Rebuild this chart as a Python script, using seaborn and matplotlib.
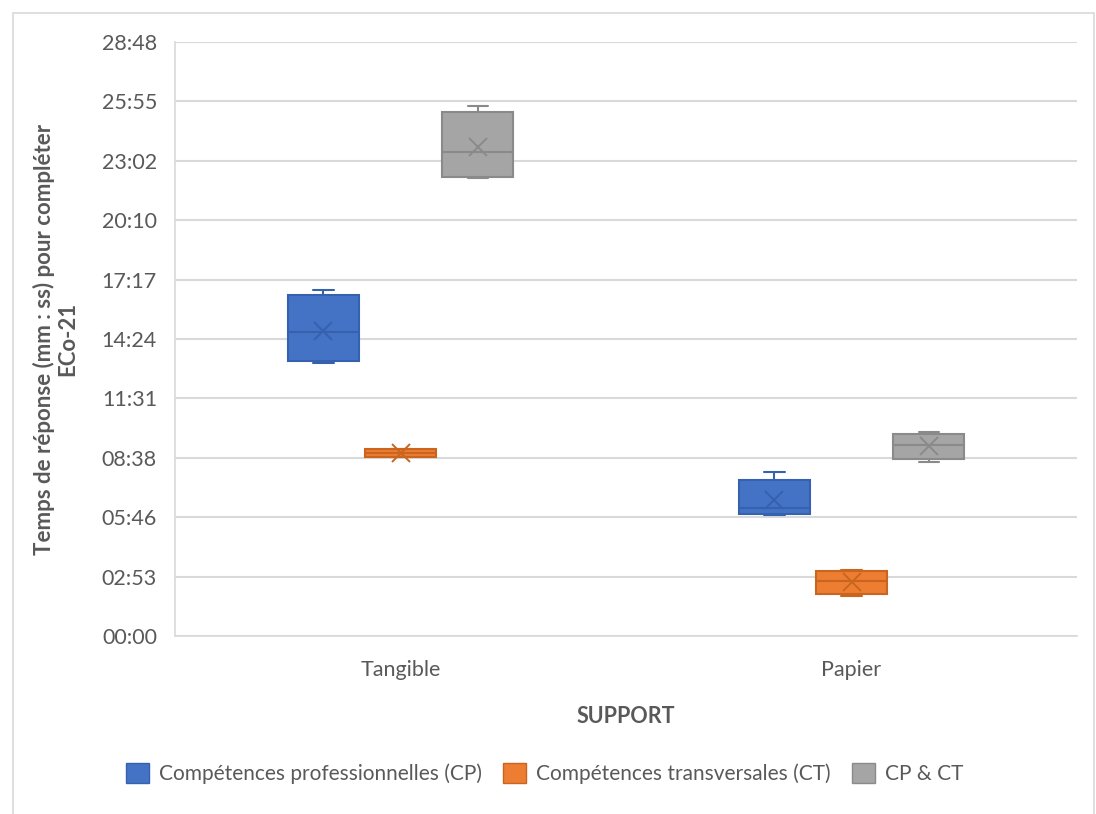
import numpy as np
import pandas as pd
import matplotlib.pyplot as plt
from matplotlib.patches import Patch, Rectangle
import seaborn as sns

## Data (seconds)
supports = ['Tangible', 'Papier']
groupes = ['Compétences professionnelles (CP)', 'Compétences transversales (CT)', 'CP & CT']

# min, Q1, median, Q3, max
tangible_cp = [793, 801, 884, 992, 1006]
tangible_ct = [520, 522, 532, 543, 545]
tangible_cpct = [1333, 1334, 1407, 1525, 1542]
papier_cp = [352, 355, 372, 454, 476]
papier_ct = [116, 121, 161, 189, 192]
papier_cpct = [505, 515, 556, 587, 594]

# means (x markers)
moy_tangible = [888, 532, 1422]
moy_papier = [396, 158, 554]

yticks_sec = [0, 172.8, 345.6, 518.4, 691.2, 864, 1036.8, 1209.6, 1382.4, 1555.2, 1728]
ytick_labels = ['00:00', '02:53', '05:46', '08:38', '11:31', '14:24',
                '17:17', '20:10', '23:02', '25:55', '28:48']

fill_colors = ['#4472C4', '#ED7D31', '#A5A5A5']
edge_colors = ['#3561AE', '#C9651F', '#8A8A8A']
text_col = '#595959'

## Long-form tables
rows = []
for sup, vals in zip(supports, [[tangible_cp, tangible_ct, tangible_cpct],
                                [papier_cp, papier_ct, papier_cpct]]):
    for g, v in zip(groupes, vals):
        for t in v:
            rows.append({'Support': sup, 'Groupe': g, 'Temps': t})
df = pd.DataFrame(rows)

mrows = []
for sup, means in zip(supports, [moy_tangible, moy_papier]):
    for g, m in zip(groupes, means):
        mrows.append({'Support': sup, 'Groupe': g, 'Temps': m})
df_means = pd.DataFrame(mrows)

sns.set_style('white')
plt.rcParams['font.family'] = ['Lato', 'DejaVu Sans']

fig = plt.figure(figsize=(10.96, 8.14), dpi=100)
ax = fig.add_axes([0.1597, 0.2187, 0.9827 - 0.1597, 0.9484 - 0.2187])

box_width = 0.513
sns.boxplot(data=df, x='Support', y='Temps', hue='Groupe', order=supports,
            hue_order=groupes, palette=fill_colors, saturation=1, width=box_width,
            gap=0.08, whis=3, linewidth=1.5, capwidths=0.045, legend=False, ax=ax)

for cont, ec in zip(ax.containers, edge_colors):
    for b in cont.boxes:
        b.set_edgecolor(ec)
    for ln in list(cont.whiskers) + list(cont.caps) + list(cont.medians):
        ln.set_color(ec)
        ln.set_linewidth(1.5)

sns.pointplot(data=df_means, x='Support', y='Temps', hue='Groupe', order=supports,
              hue_order=groupes, palette=edge_colors, dodge=2 * box_width / 3,
              markers='x', linestyles='none', errorbar=None, legend=False,
              markersize=13, markeredgewidth=1.4, zorder=5, ax=ax)

ax.set_xlim(-0.5, 1.5)
ax.set_ylim(0, 1728)
ax.set_yticks(yticks_sec)
ax.set_yticklabels(ytick_labels)
ax.yaxis.grid(True, color='#D9D9D9', linewidth=1.5)
ax.set_axisbelow(True)
ax.tick_params(axis='both', length=0, labelsize=15.5, labelcolor=text_col)
ax.tick_params(axis='y', pad=13)
ax.tick_params(axis='x', pad=17)

for s in ['top', 'right']:
    ax.spines[s].set_visible(False)
for s in ['left', 'bottom']:
    ax.spines[s].set_color('#D9D9D9')
    ax.spines[s].set_linewidth(1.2)

ax.set_xlabel('SUPPORT', fontsize=15.5, fontweight='bold', color=text_col, labelpad=19)
ax.set_ylabel('Temps de réponse (mm : ss) pour compléter\nECo-21', fontsize=16,
              fontweight='bold', color=text_col, labelpad=17, linespacing=1.1)

handles = [Patch(facecolor=f, edgecolor=e, linewidth=1) for f, e in zip(fill_colors, edge_colors)]
fig.legend(handles, groupes, loc='center', bbox_to_anchor=(0.497, 0.05), ncol=3,
           frameon=False, fontsize=15, labelcolor=text_col, handlelength=1.1,
           handleheight=1.1, handletextpad=0.5, columnspacing=1.0)

# outer chart border
fig.patches.append(Rectangle((13 / 1096, -0.01), (1094 - 13) / 1096, 1.01 - 13 / 814,
                             transform=fig.transFigure, fill=False,
                             edgecolor='#D9D9D9', linewidth=1.2))

fig.savefig('out.png', dpi=100)
